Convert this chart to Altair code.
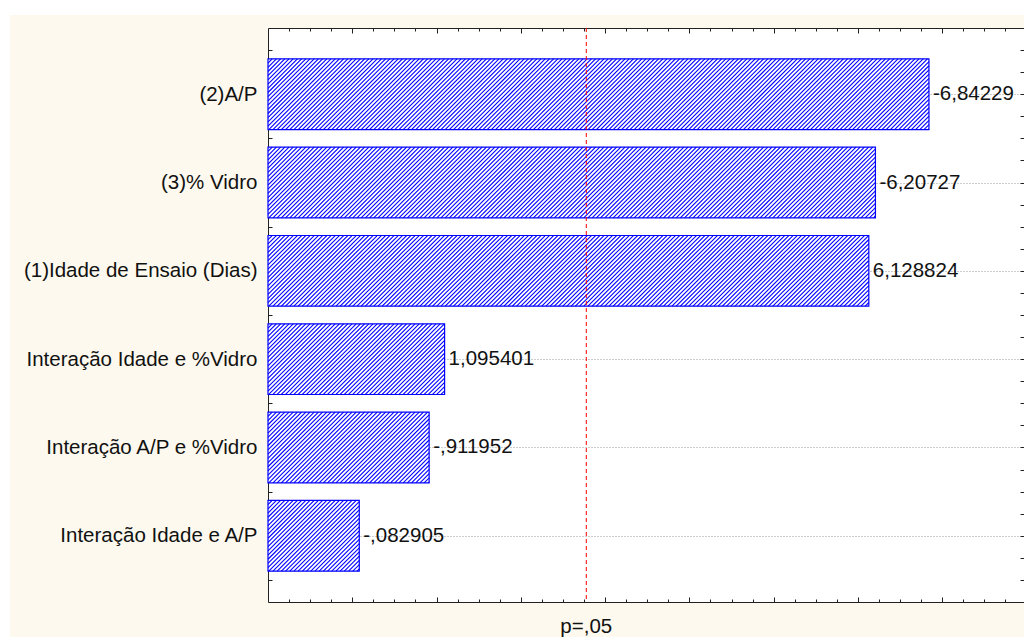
import json

import altair as alt
import pandas as pd

# Pareto chart of standardized effects (t values), p = .05 reference line
factors = [
    "(2)A/P",
    "(3)% Vidro",
    "(1)Idade de Ensaio (Dias)",
    "Interação Idade e %Vidro",
    "Interação A/P e %Vidro",
    "Interação Idade e A/P",
]
effects = [-6.84229, -6.20727, 6.128824, 1.095401, -0.911952, -0.082905]
p_critical = 2.776445
p_caption = "p=,05"

# axis ranges and plot size
X_MIN, X_MAX = -1.0, 7.97
Y_MIN, Y_MAX = 0.25, 6.75
W, H = 756, 574
PAD_L, PAD_T, PAD_B = 268, 28, 35
BAR_HALF = 0.4
HATCH_PITCH = 4.2  # px between hatch lines, measured horizontally

FONT = "Liberation Sans"
INK = "#111111"
FRAME = "#222222"
BLUE = "#0000ff"
CREAM = "#fdf9ee"


def statistica_fmt(v):
    """7 significant digits, decimal comma, no leading zero."""
    s = f"{abs(v):.7g}"
    if s.startswith("0."):
        s = s[1:]
    return ("-" if v < 0 else "") + s.replace(".", ",")


n = len(factors)
table = pd.DataFrame({
    "factor": factors,
    "effect": effects,
    "size": [abs(v) for v in effects],
    "rank": list(range(n, 0, -1)),
    "label": [statistica_fmt(v) for v in effects],
})

x_scale = alt.Scale(domain=[X_MIN, X_MAX], nice=False, zero=False)
y_scale = alt.Scale(domain=[Y_MIN, Y_MAX], nice=False, zero=False)
x_ticks = [X_MIN + 0.25 * i for i in range(1, int((X_MAX - X_MIN) / 0.25) + 1)]
y_ticks = [Y_MIN + 0.25 * i for i in range(1, int(round((Y_MAX - Y_MIN) / 0.25)))]
px_x = W / (X_MAX - X_MIN)
px_y = H / (Y_MAX - Y_MIN)

# inward ticks: longer at whole units, shorter at quarters
x_tick_len = alt.ExprRef(expr="datum.value % 1 === 0 ? -5 : -3")
y_tick_len = alt.ExprRef(expr="-4")
frame_axis = dict(title=None, labels=False, grid=False, tickColor=FRAME, tickWidth=1,
                  domainColor=FRAME, domainWidth=1)

ax_bottom = alt.Axis(orient="bottom", values=x_ticks, tickSize=x_tick_len, **frame_axis)
ax_top = alt.Axis(orient="top", values=x_ticks, tickSize=x_tick_len, **frame_axis)

# category names on the left, top row = rank n
names_js = json.dumps(factors, ensure_ascii=False)
ax_left = alt.Axis(
    orient="left", values=y_ticks, title=None, grid=False,
    tickColor=FRAME, tickWidth=1, tickSize=y_tick_len,
    domainColor=FRAME, domainWidth=1,
    labelExpr=f"datum.value % 1 === 0 ? {names_js}[{n} - datum.value] : ''",
    labelFont=FONT, labelFontSize=20.5, labelColor=INK, labelPadding=15,
    labelLimit=400, labelOverlap=False, labelFlush=False,
)
ax_right = alt.Axis(
    orient="right", values=y_ticks, title=None, labels=False, domain=False,
    tickColor=FRAME, tickWidth=1, tickSize=y_tick_len,
    grid=True, gridColor="#9a9a9a", gridDash=[1, 2], gridWidth=1,
    gridOpacity=alt.ExprRef(expr="datum.value % 1 === 0 ? 1 : 0"),
)

base = alt.Chart(table).transform_calculate(
    start=str(X_MIN),
    lo=f"datum.rank - {BAR_HALF}",
    hi=f"datum.rank + {BAR_HALF}",
)

bars = base.mark_rect(fill="white", stroke=BLUE, strokeWidth=1.2).encode(
    x=alt.X("start:Q", scale=x_scale, axis=ax_bottom),
    x2="size:Q",
    y=alt.Y("lo:Q", scale=y_scale, axis=ax_left),
    y2="hi:Q",
)

# '////' hatching: diagonal lines x + y = c (pixels from each bar's top-left),
# clipped to the bar box and mapped back to data units
hatch = (
    base.transform_calculate(bw=f"(datum.size - {X_MIN}) * {px_x}")
    .transform_calculate(bh=f"{2 * BAR_HALF * px_y}")
    .transform_calculate(ks=f"sequence(1, ceil((datum.bw + datum.bh) / {HATCH_PITCH}))")
    .transform_flatten(["ks"])
    .transform_calculate(c=f"datum.ks * {HATCH_PITCH}")
    .transform_calculate(ya="min(datum.c, datum.bh)", xb="min(datum.c, datum.bw)")
    .transform_calculate(xa="datum.c - datum.ya", yb="datum.c - datum.xb")
    .transform_calculate(
        hx1=f"{X_MIN} + datum.xa / {px_x}",
        hx2=f"{X_MIN} + datum.xb / {px_x}",
        hy1=f"datum.hi - datum.ya / {px_y}",
        hy2=f"datum.hi - datum.yb / {px_y}",
    )
    .mark_rule(color=BLUE, strokeWidth=1.1)
    .encode(
        x=alt.X("hx1:Q", scale=x_scale, axis=ax_top),
        x2="hx2:Q",
        y=alt.Y("hy1:Q", scale=y_scale, axis=ax_right),
        y2="hy2:Q",
    )
)

value_labels = alt.Chart(table).mark_text(
    align="left", baseline="middle", dx=4, font=FONT, fontSize=20.5, color=INK
).encode(
    x=alt.X("size:Q", scale=x_scale, axis=None),
    y=alt.Y("rank:Q", scale=y_scale, axis=None),
    text="label:N",
)

p_data = alt.Data(values=[{"t": p_critical, "caption": p_caption}])
p_line = alt.Chart(p_data).mark_rule(color="#ff0000", strokeDash=[4, 3], strokeWidth=1).encode(
    x=alt.X("t:Q", scale=x_scale, axis=None)
)
p_text = alt.Chart(p_data).mark_text(
    align="center", baseline="alphabetic", font=FONT, fontSize=20.5, color=INK
).encode(
    x=alt.X("t:Q", scale=x_scale, axis=None),
    y=alt.value(H + 31),
    text="caption:N",
)

# white page margin around the cream panel
margin = alt.Chart(alt.Data(values=[{}])).mark_rect(color="white")
strip_left = margin.encode(
    x=alt.value(-PAD_L), x2=alt.value(-PAD_L + 10), y=alt.value(-PAD_T), y2=alt.value(H + PAD_B)
)
strip_top = margin.encode(
    x=alt.value(-PAD_L), x2=alt.value(W), y=alt.value(-PAD_T), y2=alt.value(-PAD_T + 15)
)

chart = (
    alt.layer(strip_left, strip_top, bars, hatch, value_labels, p_line, p_text)
    .resolve_axis(x="independent", y="independent")
    .properties(
        width=W,
        height=H,
        padding={"left": PAD_L, "top": PAD_T, "right": 0, "bottom": PAD_B},
        autosize=alt.AutoSizeParams(type="none"),
        background=CREAM,
    )
    .configure_view(fill="white", stroke="transparent")
)

chart.save("out.html", embed_options={"renderer": "svg", "actions": False})
